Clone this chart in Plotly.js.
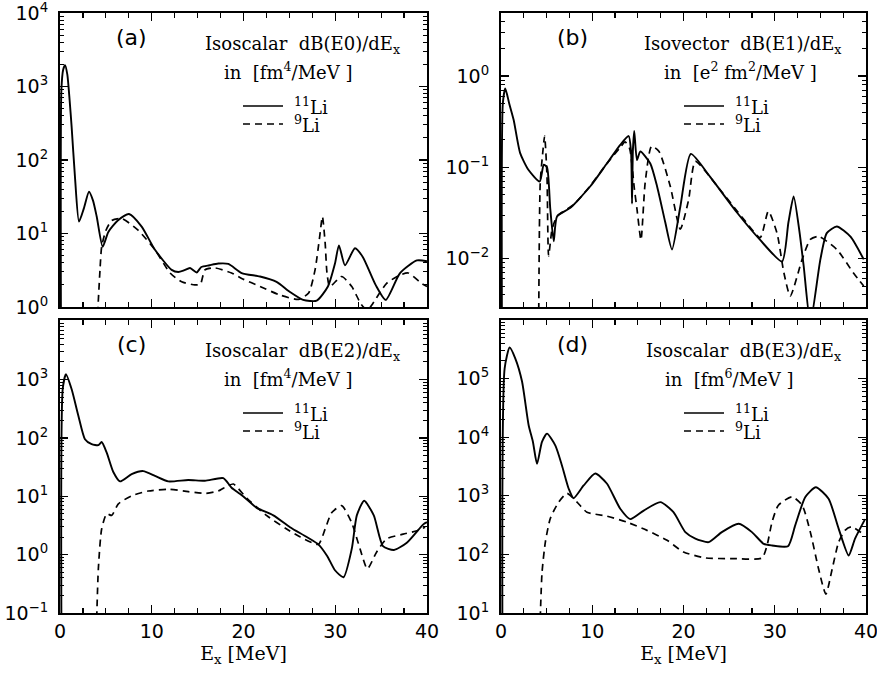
<!DOCTYPE html>
<html>
<head>
<meta charset="utf-8">
<script src="https://cdn.plot.ly/plotly-3.0.1.min.js"></script>
<style>html,body{margin:0;padding:0;background:#fff}#chart{width:877px;height:675px}</style>
</head>
<body>
<div id="chart"></div>
<script>
// ---------------- DATA ----------------
// Panel (a): isoscalar dB(E0)/dEx [fm^4/MeV]
const a_li11_E = [0.1,0.15,0.35,0.55,0.8,1.05,1.27,1.63,2.07,2.6,3.16,3.6,4.0,4.65,5.27,6.3,7.52,8.9,10.35,12.17,12.9,13.5,14.17,14.9,15.4,16.3,17.25,18.35,19.8,21.8,23.6,25.07,26.5,27.98,29.2,29.97,30.4,31.06,32.15,33.0,34.4,35.5,37.06,38.9,40];
const a_li11_B = [0.8,900,1700,1950,1450,650,280,59,14.5,22,37,28,17,6.6,10.5,15,18.4,12.4,6.0,3.2,3.0,3.15,3.4,2.95,3.5,3.7,3.9,3.85,2.9,2.6,2.2,1.6,1.25,1.22,1.9,3.9,6.9,3.7,6.3,4.8,2.0,1.25,2.9,4.3,4.2];
const a_li9_E = [4.1,4.36,4.54,5.0,5.63,6.72,8.54,10.35,12.0,13.26,14.7,15.3,15.8,16.9,18.7,19.8,21.8,24.0,26.0,27.1,27.8,28.3,28.6,28.9,29.1,29.4,30.7,31.8,32.8,33.5,34.1,35.6,37.06,37.96,39.4,40];
const a_li9_B = [0.8,3.2,6.6,11,15,16,11,6,2.9,2.2,2.0,2.05,3.2,3.4,2.9,2.45,1.9,1.45,1.27,1.55,3.2,9,17,7.4,2.9,1.9,2.6,1.9,1.1,0.9,1.12,2.1,2.72,2.9,2.1,1.9];

// Panel (b): isovector dB(E1)/dEx [e^2 fm^2/MeV]
const b_li11_E = [0.1,0.2,0.47,0.9,1.39,2.1,3.0,4.24,4.68,5.04,5.4,5.78,6.14,7.6,9.79,11.6,13.07,13.99,14.25,14.36,14.45,14.6,14.9,15.27,16.36,17.1,18.0,18.74,19.65,20.8,22.9,25.86,28.4,30.8,31.5,32.07,32.7,33.17,33.9,35.0,35.7,36.8,38.3,39.75];
const b_li11_B = [0.002,0.5,0.73,0.5,0.33,0.143,0.094,0.07,0.107,0.1,0.035,0.0155,0.029,0.036,0.062,0.11,0.176,0.22,0.15,0.04,0.15,0.25,0.12,0.149,0.11,0.062,0.025,0.0126,0.037,0.14,0.079,0.032,0.016,0.0093,0.025,0.048,0.02,0.0083,0.002,0.0098,0.019,0.0225,0.0174,0.0098];
const b_li9_E = [4.13,4.3,4.57,4.78,5.04,5.22,5.6,6.14,7.96,9.8,11.6,13.07,13.6,14.1,14.6,14.9,15.34,15.8,16.5,17.3,18.55,19.65,20.56,21.3,23.7,26.6,28.4,29.3,30.25,31.0,31.7,33.0,33.9,34.8,36.8,38.65,39.75];
const b_li9_B = [0.002,0.068,0.143,0.22,0.08,0.0107,0.021,0.029,0.039,0.063,0.11,0.165,0.19,0.16,0.06,0.035,0.016,0.068,0.17,0.15,0.062,0.021,0.044,0.116,0.062,0.027,0.017,0.033,0.019,0.007,0.0039,0.0098,0.0162,0.0175,0.0126,0.0069,0.005];

// Panel (c): isoscalar dB(E2)/dEx [fm^4/MeV]
const c_li11_E = [0.15,0.3,0.65,1.27,2.0,2.72,3.45,4.18,4.54,5.09,5.81,6.54,7.81,9.08,10.35,11.8,13.98,15.8,17.8,18.7,19.6,20.3,21.4,23.25,25.07,26.9,28.15,29.1,29.97,30.9,31.8,32.35,33.15,34.2,35.2,36.4,37.8,39.6,40];
const c_li11_B = [0.08,700,1230,680,240,95,78,75,85,56,26,18,24,27,22.4,18,19,18.4,20.4,14,11,9,6.4,4.7,2.95,2.0,1.5,0.96,0.54,0.41,1.26,4.7,8.4,4.7,1.4,1.2,1.6,3.3,3.6];
const c_li9_E = [4.0,4.18,4.54,5.09,5.63,6.36,7.81,9.63,11.8,13.98,15.8,17.25,18.15,18.9,20.35,22.5,24.7,26.2,28.15,28.9,29.6,30.7,31.8,32.7,33.5,34.5,35.6,37.4,38.9,39.8];
const c_li9_B = [0.08,0.57,2.75,5.0,4.7,7.4,10.2,12.3,13.2,12,11.2,12.3,14.7,16.2,9.3,4.7,2.75,2.0,1.5,2.75,5.2,6.9,3.5,1.26,0.57,1.1,1.86,2.24,2.57,2.95];

// Panel (d): isoscalar dB(E3)/dEx [fm^6/MeV]
const d_li11_E = [0.15,0.4,0.95,1.57,2.3,3.03,3.5,3.95,4.49,5.04,5.96,6.68,7.42,7.96,9.06,10.33,11.6,13.07,14.17,15.64,17.46,18.9,20.2,21.3,22.76,24.2,26.05,27.5,28.8,29.7,31.45,32.25,33.35,34.5,35.9,37.0,38.1,38.8,39.9];
const d_li11_B = [8,1.5e5,3.4e5,2.2e5,9e4,1.6e4,8300,3500,8300,11500,7200,3300,1320,910,1500,2400,1620,600,400,560,780,525,240,186,162,240,333,240,151,142,138,316,955,1400,890,275,96,186,400];
const d_li9_E = [4.3,4.5,4.86,5.4,6.32,7.23,8.33,9.42,11.6,13.8,16.0,18.2,20.0,22.4,25.3,28.6,29.15,29.7,30.4,31.9,33.0,33.9,34.8,35.6,36.3,37.0,37.7,38.4,39.9];
const d_li9_B = [8,50,162,410,780,1100,780,525,450,355,257,174,110,87,85,87,141,355,690,960,690,240,57,21,57,162,257,295,210];

// Tick labels
const xTickVals = [0,10,20,30,40];
const xTickText = ['0','10','20','30','40'];
const aTickVals = [1,10,100,1000,10000];
const aTickText = ['10<sup>0</sup>','10<sup>1</sup>','10<sup>2</sup>','10<sup>3</sup>','10<sup>4</sup>'];
const bTickVals = [0.01,0.1,1];
const bTickText = ['10<sup>−2</sup>','10<sup>−1</sup>','10<sup>0</sup>'];
const cTickVals = [0.1,1,10,100,1000];
const cTickText = ['10<sup>−1</sup>','10<sup>0</sup>','10<sup>1</sup>','10<sup>2</sup>','10<sup>3</sup>'];
const dTickVals = [10,100,1000,10000,100000];
const dTickText = ['10<sup>1</sup>','10<sup>2</sup>','10<sup>3</sup>','10<sup>4</sup>','10<sup>5</sup>'];

// Panel texts
const panelLabels = ['(a)','(b)','(c)','(d)'];
const panelTitles = ['Isoscalar  dB(E0)/dE<sub>x</sub>','Isovector  dB(E1)/dE<sub>x</sub>','Isoscalar  dB(E2)/dE<sub>x</sub>','Isoscalar  dB(E3)/dE<sub>x</sub>'];
const panelUnits = ['in  [fm<sup>4</sup>/MeV ]','in  [e<sup>2</sup> fm<sup>2</sup>/MeV ]','in  [fm<sup>4</sup>/MeV ]','in  [fm<sup>6</sup>/MeV ]'];
const seriesNames = ['<sup>11</sup>Li','<sup>9</sup>Li'];

// ---------------- LAYOUT ----------------
const W = 877, H = 675;
const fx = p => p / W, fy = p => 1 - p / H;
const boxes = [
  {L:60, R:427, T:13, B:307},
  {L:501, R:866, T:13, B:307},
  {L:60, R:427, T:320, B:613},
  {L:501, R:866, T:320, B:613}
];
const dashStyle = '7px,5px';
const serif = 'DejaVu Serif';
const tickFont = {family:'DejaVu Sans', size:19, color:'#000'};

const solid = {color:'#000', width:1.9, shape:'spline', smoothing:0.6};
const dashed = {color:'#000', width:1.7, dash:dashStyle, shape:'spline', smoothing:0.6};

const series = [
  [a_li11_E,a_li11_B,a_li9_E,a_li9_B],
  [b_li11_E,b_li11_B,b_li9_E,b_li9_B],
  [c_li11_E,c_li11_B,c_li9_E,c_li9_B],
  [d_li11_E,d_li11_B,d_li9_E,d_li9_B]
];
const traces = [];
series.forEach((s,i) => {
  const xa = i===0 ? 'x' : 'x'+(i+1), ya = i===0 ? 'y' : 'y'+(i+1);
  traces.push({x:s[0], y:s[1], xaxis:xa, yaxis:ya, mode:'lines', line:solid, name:'11Li', showlegend:false, hoverinfo:'skip'});
  traces.push({x:s[2], y:s[3], xaxis:xa, yaxis:ya, mode:'lines', line:dashed, name:'9Li', showlegend:false, hoverinfo:'skip'});
});

const yRanges = [[0,4],[-2.53,0.69],[-1,4.02],[1,6]];
const yTicks = [[aTickVals,aTickText],[bTickVals,bTickText],[cTickVals,cTickText],[dTickVals,dTickText]];

// minor tick positions (2..9 in each decade covering the axis range)
function minorLogTicks(r){
  const out = [];
  for (let e = Math.floor(r[0]); e <= Math.ceil(r[1]); e++)
    for (let m = 2; m <= 9; m++) out.push(m * Math.pow(10, e));
  return out;
}

const layout = {
  width:W, height:H, margin:{l:0,r:0,t:0,b:0},
  paper_bgcolor:'#fff', plot_bgcolor:'#fff', showlegend:false,
  annotations:[], shapes:[]
};
boxes.forEach((b,i) => {
  const n = i===0 ? '' : (i+1);
  const bottom = i>=2;
  layout['xaxis'+n] = {
    domain:[fx(b.L), fx(b.R)], anchor:'y'+n, range:[0,40],
    tickmode:'array', tickvals:xTickVals, ticktext:xTickText,
    ticks:'inside', ticklen:8, tickwidth:1.4, tickcolor:'#000',
    minor:{tickmode:'linear', tick0:0, dtick:2.5, ticks:'inside', ticklen:5, tickwidth:1.2, tickcolor:'#000'},
    showline:true, linecolor:'#000', linewidth:2, mirror:'allticks',
    showgrid:false, zeroline:false, showticklabels:bottom, tickfont:tickFont,
    ticklabeloverflow:'allow',
    automargin:false, fixedrange:true,
    title: bottom ? {text:'E<sub>x</sub> [MeV]', font:{family:serif, size:19, color:'#000'}, standoff:6} : {text:''}
  };
  layout['yaxis'+n] = {
    domain:[fy(b.B), fy(b.T)], anchor:'x'+n, type:'log', range:yRanges[i],
    tickmode:'array', tickvals:yTicks[i][0], ticktext:yTicks[i][1],
    ticks:'inside', ticklen:8, tickwidth:1.4, tickcolor:'#000',
    minor:{tickmode:'array', tickvals:minorLogTicks(yRanges[i]), ticks:'inside', ticklen:4, tickwidth:1, tickcolor:'#000'},
    showline:true, linecolor:'#000', linewidth:2, mirror:'allticks',
    showgrid:false, zeroline:false, tickfont:tickFont, ticklabelstandoff:6,
    ticklabeloverflow:'allow',
    automargin:false, fixedrange:true
  };
  const txt = {family:serif, size:18, color:'#000'};
  layout.annotations.push({xref:'paper', yref:'paper', x:fx(b.L+71), y:fy(b.T+24), text:panelLabels[i], showarrow:false, font:{family:'DejaVu Sans', size:22, color:'#000'}, xanchor:'center', yanchor:'middle'});
  layout.annotations.push({xref:'paper', yref:'paper', x:fx(b.L+342), y:fy(b.T+32), text:panelTitles[i], showarrow:false, font:txt, xanchor:'right', yanchor:'middle'});
  layout.annotations.push({xref:'paper', yref:'paper', x:fx(b.L+(i===1?239:228)), y:fy(b.T+58), text:panelUnits[i], showarrow:false, font:txt, xanchor:'center', yanchor:'middle'});
  layout.annotations.push({xref:'paper', yref:'paper', x:fx(b.L+232), y:fy(b.T+93), text:seriesNames[0], showarrow:false, font:txt, xanchor:'left', yanchor:'middle'});
  layout.annotations.push({xref:'paper', yref:'paper', x:fx(b.L+232), y:fy(b.T+111), text:seriesNames[1], showarrow:false, font:txt, xanchor:'left', yanchor:'middle'});
  layout.shapes.push({type:'line', xref:'paper', yref:'paper', x0:fx(b.L+183), x1:fx(b.L+223), y0:fy(b.T+93), y1:fy(b.T+93), line:{color:'#000', width:1.7}});
  layout.shapes.push({type:'line', xref:'paper', yref:'paper', x0:fx(b.L+183), x1:fx(b.L+223), y0:fy(b.T+111), y1:fy(b.T+111), line:{color:'#000', width:1.7, dash:dashStyle}});
});

Plotly.newPlot('chart', traces, layout, {staticPlot:true, displayModeBar:false});
</script>
</body>
</html>
